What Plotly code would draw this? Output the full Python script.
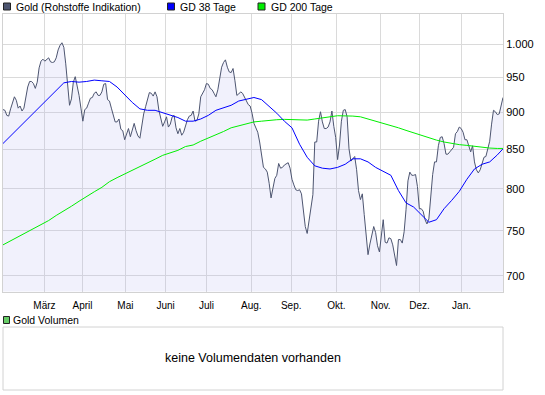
import plotly.graph_objects as go

# ---------------- data ----------------
gold = [
    904, 903, 896, 895, 905, 914, 922, 917, 906, 909,
    902, 906, 922, 936, 944, 944, 941, 934, 943, 964,
    974, 977, 974, 976, 979, 973, 972, 973, 979, 991,
    998, 1002, 995, 970, 943, 910, 919, 943, 951, 939,
    924, 906, 888, 904, 906, 913, 920, 921, 927, 929,
    924, 924, 929, 940, 941, 918, 916, 906, 896, 887,
    887, 891, 877, 875, 863, 871, 878, 867, 878, 885,
    875, 868, 865, 884, 898, 908, 920, 928, 927, 923,
    929, 922, 903, 891, 881, 887, 894, 880, 884, 894,
    896, 879, 871, 878, 869, 873, 882, 890, 895, 896,
    902, 888, 889, 898, 922, 927, 932, 941, 940, 934,
    932, 927, 922, 932, 951, 965, 972, 976, 965, 958,
    957, 963, 945, 924, 926, 929, 927, 921, 916, 911,
    909, 899, 885, 880, 873, 860, 844, 827, 825, 821,
    807, 789, 801, 813, 817, 832, 826, 827, 830, 832,
    833, 826, 812, 805, 799, 798, 799, 794, 771, 755,
    747, 763, 782, 793, 860, 860, 888, 901, 887, 878,
    878, 880, 887, 902, 881, 866, 837, 856, 888, 903,
    904, 894, 851, 835, 838, 841, 824, 798, 787, 794,
    769, 742, 723, 735, 744, 755, 748, 733, 726, 748,
    763, 737, 736, 742, 741, 734, 720, 711, 740, 740,
    736, 749, 775, 810, 821, 817, 817, 818, 803, 776,
    776, 773, 763, 758, 764, 790, 818, 834, 834, 855,
    866, 867, 858, 844, 844, 847, 850, 853, 871, 874,
    880, 878, 873, 863, 863, 856, 847, 855, 834, 824,
    820, 824, 831, 840, 841, 853, 861, 884, 903, 901,
    897, 898, 908, 921,
]

ma_idx = list(range(0, 264, 4)) + [263]

gd38 = [
    858, 868, 878, 889, 899, 909, 920, 931, 942, 944,
    943, 944, 946, 945, 944, 936, 925, 914, 905, 903,
    903, 900, 896, 893, 888, 888, 891, 896, 903, 906,
    910, 916, 919, 921, 918, 909, 899, 888, 879, 857,
    840, 829, 826, 825, 827, 831, 838, 838, 834, 827,
    822, 817, 798, 783, 778, 769, 760, 763, 776, 786,
    797, 812, 825, 831, 834, 843, 851,
]

gd200 = [
    734, 738.5, 743, 747.5, 752, 757, 762, 768, 773, 779,
    785, 791, 796.5, 802, 809, 814, 818.5, 823, 828, 833,
    837.5, 842.5, 846, 849, 854, 856, 861, 865, 870, 874,
    879, 882, 884.5, 887, 888, 889.5, 890, 890.5, 890.5, 890,
    889.5, 891, 893, 894, 895.5, 895.5, 895, 894, 891, 888,
    885.5, 882.5, 879, 875.5, 872, 869, 865.5, 862.5, 860, 858,
    856.5, 855.5, 854, 852.5, 852, 851.5, 851.5,
]

month_labels = ["März", "April", "Mai", "Juni", "Juli", "Aug.", "Sep.",
                "Okt.", "Nov.", "Dez.", "Jan."]
month_pos = [21.8, 41.8, 64.4, 85.5, 107.0, 130.6, 151.6, 175.4, 198.6,
             219.1, 241.2]

y_ticks = [700, 750, 800, 850, 900, 950, 1000]
y_ticktext = ["700", "750", "800", "850", "900", "950", "1.000"]

legend_names = ["Gold (Rohstoffe Indikation)", "GD 38 Tage", "GD 200 Tage"]
volume_name = "Gold Volumen"
volume_msg = "keine Volumendaten vorhanden"

# ---------------- styling ----------------
W, H = 545, 395
ML, MR, MT, MB = 3, 42, 14, 5
PW, PH = W - ML - MR, H - MT - MB
FONT = "Liberation Sans, Arial, sans-serif"
GRID = "#dadada"
FRAME = "#d2d2d2"
C_GOLD = "#4d5570"
C_BLUE = "#0000ff"
C_GREEN = "#00ee00"

main_bottom_px = 291.5
vol_top_px = 327.0


def px(x):
    return (x - ML) / PW


def py(y):
    return (H - MB - y) / PH


y_lo, y_hi = 2.8345, 3.0201
N = len(gold)
idx = list(range(N))
floor = [10 ** (y_lo - 0.02)] * N

fig = go.Figure()
fig.add_trace(go.Scatter(x=idx, y=floor, mode="lines", line=dict(width=0),
                         hoverinfo="skip", showlegend=False))
fig.add_trace(go.Scatter(x=idx, y=gold, mode="lines", fill="tonexty",
                         fillcolor="rgba(185,185,240,0.2)",
                         line=dict(color=C_GOLD, width=1),
                         name=legend_names[0], showlegend=False))
fig.add_trace(go.Scatter(x=ma_idx, y=gd200, mode="lines",
                         line=dict(color=C_GREEN, width=1),
                         name=legend_names[2], showlegend=False))
fig.add_trace(go.Scatter(x=ma_idx, y=gd38, mode="lines",
                         line=dict(color=C_BLUE, width=1),
                         name=legend_names[1], showlegend=False))

shapes = []
annotations = []

# top legend
leg_sq = [(3.5, C_GOLD), (167.5, C_BLUE), (258, C_GREEN)]
leg_tx = [15.0, 179.2, 270.0]
for (sx, col), tx, name in zip(leg_sq, leg_tx, legend_names):
    shapes.append(dict(type="rect", xref="paper", yref="paper",
                       x0=px(sx), x1=px(sx + 7), y0=py(10), y1=py(3),
                       fillcolor=col, line=dict(color="#222222", width=1)))
    annotations.append(dict(xref="paper", yref="paper", x=px(tx), y=py(6.8),
                            xanchor="left", yanchor="middle", showarrow=False,
                            text=name, font=dict(family=FONT, size=10.5, color="#000"),
                            borderpad=0))

# volume panel
shapes.append(dict(type="rect", xref="paper", yref="paper",
                   x0=px(3.5), x1=px(9.5), y0=py(323.5), y1=py(316.5),
                   fillcolor="#66cc66", line=dict(color="#222222", width=1)))
annotations.append(dict(xref="paper", yref="paper", x=px(11.5), y=py(320.2),
                        xanchor="left", yanchor="middle", showarrow=False,
                        text=volume_name, font=dict(family=FONT, size=10.5, color="#000"),
                        borderpad=0))
shapes.append(dict(type="rect", xref="paper", yref="paper",
                   x0=0, x1=1, y0=0, y1=py(vol_top_px),
                   fillcolor="white", line=dict(color=FRAME, width=1)))
annotations.append(dict(xref="paper", yref="paper", x=px(253), y=py(358),
                        xanchor="center", yanchor="middle", showarrow=False,
                        text=volume_msg, font=dict(family=FONT, size=12.5, color="#000")))

fig.update_layout(
    width=W, height=H,
    margin=dict(l=ML, r=MR, t=MT, b=MB, pad=0),
    paper_bgcolor="white", plot_bgcolor="white",
    showlegend=False,
    font=dict(family=FONT, color="#000"),
    shapes=shapes, annotations=annotations,
    xaxis=dict(range=[0, N - 1], tickmode="array", tickvals=month_pos,
               ticktext=month_labels, showgrid=True, gridcolor=GRID, gridwidth=1,
               showline=True, mirror=True, linecolor=FRAME, linewidth=1,
               zeroline=False, ticks="outside", ticklen=4,
               tickcolor="rgba(0,0,0,0)", tickfont=dict(size=10, family=FONT, color="#000"),
               fixedrange=True),
    yaxis=dict(type="log", range=[y_lo, y_hi], side="right",
               domain=[py(main_bottom_px), 1],
               tickmode="array", tickvals=y_ticks, ticktext=y_ticktext,
               showgrid=True, gridcolor=GRID, gridwidth=1,
               showline=True, mirror=True, linecolor=FRAME, linewidth=1,
               zeroline=False, ticks="",
               tickfont=dict(size=11, family=FONT, color="#000"),
               fixedrange=True),
)

fig.write_html(
    "out.html",
    config={"displayModeBar": False, "staticPlot": True},
    post_script="document.body.style.margin='0px';document.body.style.overflow='hidden';",
)
